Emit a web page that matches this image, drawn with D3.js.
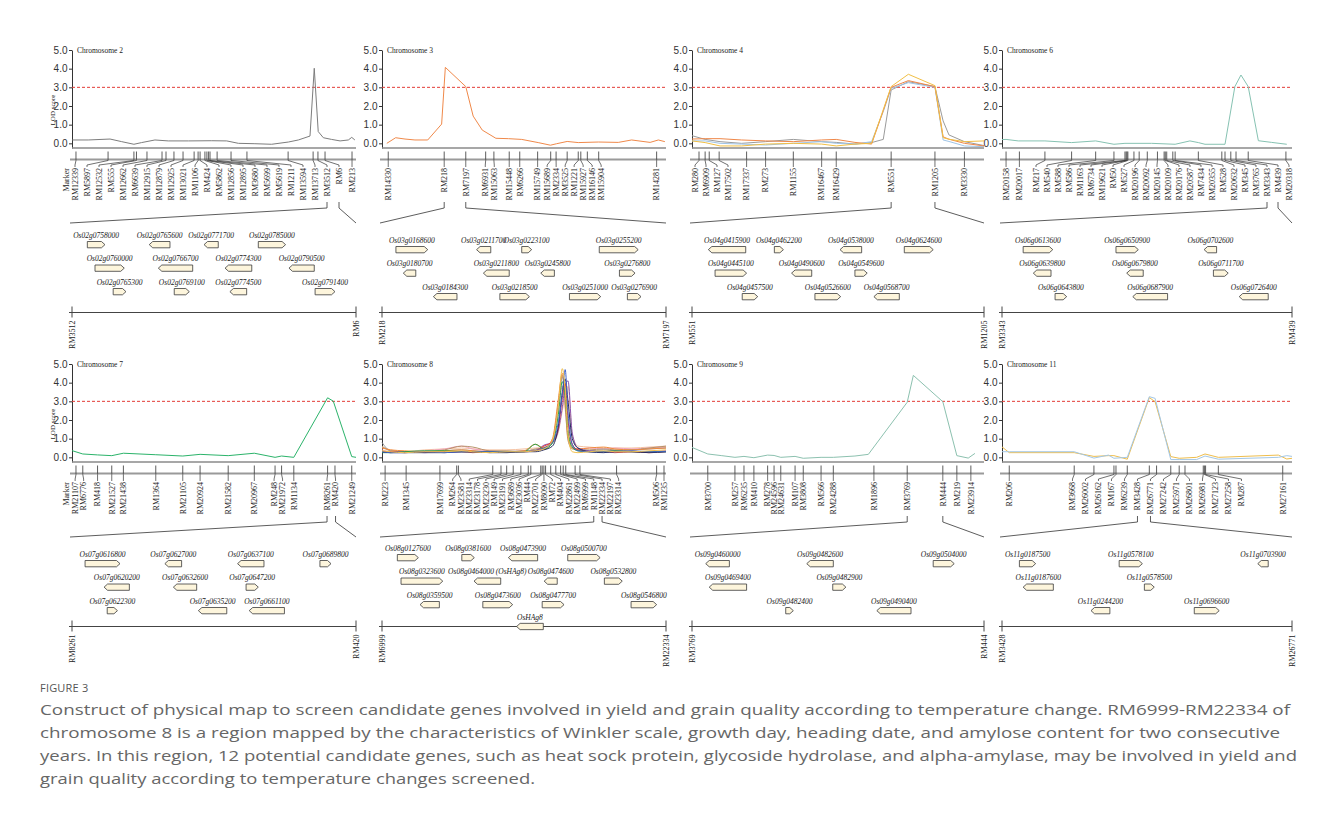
<!DOCTYPE html>
<html>
<head>
<meta charset="utf-8">
<script src="https://cdn.jsdelivr.net/npm/d3@7"></script>
<style>
  body { margin: 0; background: #fff; }
</style>
</head>
<body>
<svg id="fig" width="1320" height="823"></svg>
<script>
// ---------- data (positions in % of chromosome segment / zoom region) ----------

const chr2Markers = ['RM12339','RM5897','RM12532','RM555','RM12662','RM6639','RM12915','RM12879','RM12925','RM13021','RM1106','RM424','RM5862','RM12856','RM12895','RM3680','RM5699','RM5619','RM1211','RM13594','RM13713','RM3512','RM6','RM213']
const chr2Pos = [1.4,12.7,21.8,22.7,26.4,31.7,33.1,35.9,39.1,43.0,44.4,45.1,46.8,47.5,48.1,48.6,51.1,56.0,61.6,76.1,84.9,86.6,89.1,98.6]
const chr2LodX = [0.1,5.7,13.4,17.5,21.8,24.5,29.2,33.9,41.0,49.2,54.5,58.6,64.4,70.3,76.2,79.7,83.8,85.3,86.7,88.5,91.4,94.4,97.3,98.5,99.6]
const chr2Lod = [0.18,0.18,0.23,0.09,-0.05,0.04,0.18,0.13,0.13,0.14,0.13,0.0,-0.02,-0.05,0.07,0.18,0.39,4.02,0.63,0.3,0.21,0.13,0.18,0.32,0.18]
const chr2Genes = [
  ['Os02g0758000', 5.4, 11.6, 0, 1], ['Os02g0765600', 27.2, 34.5, 0, -1],
  ['Os02g0771700', 46.5, 51.5, 0, -1], ['Os02g0785000', 65.6, 75.2, 0, 1],
  ['Os02g0760000', 8.1, 18.4, 1, 1], ['Os02g0766700', 30.4, 42.5, 1, -1],
  ['Os02g0774300', 53.9, 63.3, 1, -1], ['Os02g0790500', 76.4, 85.3, 1, -1],
  ['Os02g0765300', 14.5, 19.0, 2, 1], ['Os02g0769100', 36.0, 41.3, 2, 1],
  ['Os02g0774500', 55.6, 61.5, 2, -1], ['Os02g0791400', 85.6, 92.6, 2, 1]
]

const chr3Markers = ['RM14330','RM218','RM7197','RM6931','RM15063','RM15448','RM6266','RM15749','RM15689','RM2334','RM3525','RM1221','RM15927','RM16146','RM15904','RM14281']
const chr3Pos = [2.2,21.9,29.5,36.5,39.4,44.8,48.5,54.8,59.4,61.3,65.2,69.1,70.0,72.3,76.3,96.7]
const chr3LodX = [1.7,4.8,8.1,11.6,16.1,21.0,22.3,29.5,32.1,35.3,40.1,44.5,49.2,55.0,59.3,61.5,65.2,69.1,76.2,83.2,87.9,94.4,97.3,99.6]
const chr3Lod = [0.0,0.3,0.23,0.18,0.18,1.03,4.07,3.04,1.46,0.71,0.27,0.25,0.21,0.04,-0.1,-0.02,0.1,0.04,0.07,0.05,0.18,0.05,0.18,0.09]
const chr3Genes = [
  ['Os03g0168600', 4.9, 16.1, 0, 1], ['Os03g0211700', 33.3, 38.3, 0, -1],
  ['Os03g0223100', 49.2, 52.7, 0, 1], ['Os03g0255200', 76.5, 90.2, 0, 1],
  ['Os03g0180700', 7.5, 11.9, 1, -1], ['Os03g0211800', 35.7, 44.8, 1, -1],
  ['Os03g0245800', 55.9, 60.7, 1, -1], ['Os03g0276800', 83.6, 89.1, 1, 1],
  ['Os03g0184300', 18.1, 26.4, 2, -1], ['Os03g0218500', 41.5, 51.9, 2, 1],
  ['Os03g0251000', 66.0, 77.0, 2, 1], ['Os03g0276900', 86.4, 91.2, 2, 1]
]

const chr4Markers = ['RM280','RM6909','RM127','RM17502','RM17337','RM273','RM1155','RM16467','RM16429','RM551','RM1205','RM3330']
const chr4Pos = [2.4,4.5,5.9,9.3,18.7,25.2,34.7,44.4,49.4,68.2,83.2,93.3]
const chr4LodX = [0,4.5,9.6,17.0,25.2,34.7,44.4,49.4,55.8,61.5,65.5,68.2,74.1,83.2,86.0,88.0,93.3,100]
const chr4LodGray = [0.41,0.21,0.09,0,0.09,0.21,0.09,0.05,-0.04,0.04,0.21,2.86,3.3,3.04,1.2,0.45,0.09,-0.12]
const chr4LodOrange = [0.23,0.25,0.25,0.18,0.13,0.09,0.18,0.21,0.05,-0.04,1.75,3.0,3.36,3.04,0.35,0.22,0,-0.14]
const chr4LodYellow = [0.13,0.04,-0.14,-0.14,-0.04,0,-0.04,-0.14,-0.04,0,1.8,3.04,3.7,3.09,0.3,0.22,0.09,0.13]
const chr4LodBlue = [0.13,0.13,0,-0.04,-0.09,0,0.09,0,-0.04,0.09,1.7,2.95,3.25,3.0,0.18,0.1,-0.14,-0.18]
const chr4Genes = [
  ['Os04g0415900', 5.6, 18.4, 0, -1], ['Os04g0462200', 28.2, 31.3, 0, 1],
  ['Os04g0538000', 50.7, 58.1, 0, -1], ['Os04g0624600', 72.7, 82.6, 0, 1],
  ['Os04g0445100', 7.9, 18.7, 1, 1], ['Os04g0490600', 34.1, 41.0, 1, -1],
  ['Os04g0549600', 55.8, 60.0, 1, 1],
  ['Os04g0457500', 17.2, 22.5, 2, 1], ['Os04g0526600', 42.1, 50.9, 2, 1],
  ['Os04g0568700', 62.3, 71.0, 2, -1]
]

const chr6Markers = ['RM20158','RM20017','RM217','RM540','RM588','RM586','RM1163','RM6734','RM19621','RM50','RM527','RM20196','RM20092','RM20145','RM20109','RM20176','RM20587','RM7434','RM20355','RM528','RM20632','RM345','RM3765','RM3343','RM439','RM20318']
const chr6Pos = [1.4,6.0,14.8,24.0,32.3,38.6,42.4,42.8,43.1,43.4,45.5,47.3,50.1,53.6,55.9,56.3,56.8,58.9,59.7,67.7,75.8,76.9,78.9,80.7,84.9,97.9]
const chr6LodX = [0,1.4,5.6,14.8,24.0,32.3,38.6,42.4,51.6,59.7,64.8,67.7,70.0,76.9,80.3,82.4,84.9,88.4,93.0,98.2]
const chr6Lod = [0.2,0.21,0.13,0.13,0.04,0.13,-0.05,0,0,-0.05,0.13,0.04,-0.05,-0.05,3.04,3.66,3.04,0.14,0.05,-0.05]
const chr6Genes = [
  ['Os06g0613600', 7.3, 17.5, 0, 1], ['Os06g0650900', 39.3, 47.0, 0, 1],
  ['Os06g0702600', 69.7, 74.0, 0, -1],
  ['Os06g0639800', 10.8, 16.9, 1, -1], ['Os06g0679800', 43.0, 48.7, 1, -1],
  ['Os06g0711700', 72.9, 78.0, 1, 1],
  ['Os06g0643800', 18.3, 22.3, 2, 1], ['Os06g0687900', 45.1, 57.1, 2, -1],
  ['Os06g0726400', 81.8, 91.8, 2, -1]
]

const chr7Markers = ['RM21107','RM6776','RM418','RM21527','RM21438','RM1364','RM21105','RM20924','RM21582','RM20967','RM248','RM21972','RM1134','RM8261','RM420','RM21249']
const chr7Pos = [1.4,3.8,9.0,14.0,18.1,29.5,39.0,45.1,55.0,64.2,71.5,73.8,78.1,90.0,92.6,98.5]
const chr7LodX = [0,3.8,9.0,14.0,18.1,29.5,39.0,45.1,55.0,64.2,71.5,73.8,78.1,90.0,92.0,98.5,100]
const chr7Lod = [0.36,0.18,0.13,0.09,0.22,0.14,0.07,0.16,0.09,0.22,0,0.07,0,3.19,3.01,0.04,0]
const chr7Genes = [
  ['Os07g0616800', 4.6, 16.9, 0, 1], ['Os07g0627000', 32.7, 38.6, 0, -1],
  ['Os07g0637100', 58.3, 67.6, 0, -1], ['Os07g0689800', 87.3, 91.2, 0, 1],
  ['Os07g0620200', 11.3, 20.2, 1, -1], ['Os07g0632600', 35.7, 43.9, 1, -1],
  ['Os07g0647200', 61.3, 65.6, 1, 1],
  ['Os07g0622300', 12.4, 16.0, 2, 1], ['Os07g0635200', 44.5, 54.5, 2, -1],
  ['Os07g0661100', 62.4, 74.8, 2, -1]
]

const chr8Markers = ['RM223','RM1345','RM17699','RM264','RM23581','RM23314','RM23178','RM23230','RM149','RM23191','RM3689','RM23036','RM44','RM22701','RM8090','RM72','RM404','RM22861','RM22499','RM6999','RM1148','RM22334','RM22197','RM23314','RM506','RM1235']
const chr8Pos = [1.1,8.5,20.4,26.3,26.9,39.0,41.9,43.9,46.2,48.9,51.5,52.4,55.9,56.4,57.0,57.6,59.4,61.2,62.9,63.8,64.7,68.0,69.7,82.6,96.7,99.3]
const chr8LodX = [0,3,8,15,22,28,32,38,44,50,54,57,60,62,63.5,64.5,65.5,67,69,73,78,82,88,94,100]
const chr8LodYellow = [0.35,0.3,0.25,0.3,0.3,0.35,0.3,0.25,0.3,0.3,0.35,0.45,0.9,2.6,4.75,3.6,1.2,0.3,0.25,0.3,0.35,0.3,0.3,0.35,0.4]
const chr8LodBlue = [0.3,0.25,0.25,0.3,0.25,0.3,0.3,0.3,0.3,0.3,0.35,0.5,0.8,1.8,3.4,4.7,2.4,0.7,0.35,0.3,0.3,0.3,0.35,0.3,0.3]
const chr8LodGray = [0.8,0.35,0.3,0.3,0.35,0.4,0.35,0.3,0.3,0.35,0.4,0.5,0.8,2.5,4.3,3.5,1.5,0.6,0.4,0.35,0.4,0.35,0.4,0.45,0.5]
const chr8LodNavy = [0.3,0.25,0.25,0.25,0.25,0.3,0.3,0.25,0.25,0.3,0.3,0.4,0.6,1.6,3.5,4.2,3.0,1.0,0.5,0.3,0.25,0.3,0.3,0.25,0.3]
const chr8LodGreen = [0.25,0.25,0.3,0.35,0.35,0.3,0.3,0.3,0.3,0.3,0.7,0.45,0.75,2.2,4.05,3.3,1.3,0.55,0.35,0.3,0.3,0.35,0.3,0.3,0.3]
const chr8LodRed = [0.3,0.3,0.25,0.3,0.3,0.3,0.25,0.3,0.3,0.3,0.35,0.6,0.85,1.5,3.2,3.95,2.0,0.7,0.4,0.3,0.3,0.25,0.3,0.25,0.3]
const chr8LodTan = [0.6,0.35,0.3,0.3,0.4,0.6,0.55,0.35,0.35,0.3,0.45,0.5,0.9,2.8,4.4,2.8,0.9,0.45,0.4,0.4,0.45,0.4,0.4,0.5,0.6]
const chr8LodPink = [0.4,0.3,0.3,0.35,0.45,0.6,0.45,0.35,0.3,0.35,0.4,0.45,0.8,2.4,3.8,2.6,1.0,0.5,0.45,0.5,0.45,0.5,0.45,0.5,0.55]
const chr8LodPurple = [0.3,0.3,0.3,0.25,0.3,0.3,0.3,0.3,0.3,0.3,0.35,0.65,0.8,1.4,2.7,3.8,4.1,1.3,0.5,0.35,0.3,0.35,0.3,0.3,0.35]
const chr8LodOrange = [0.5,0.4,0.35,0.3,0.35,0.4,0.35,0.3,0.3,0.35,0.7,0.5,1.0,3.0,4.5,3.2,1.1,0.5,0.45,0.5,0.55,0.45,0.4,0.45,0.5]
const chr8LodPeach = [0.55,0.4,0.3,0.4,0.45,0.5,0.45,0.4,0.4,0.45,0.5,0.55,0.75,1.3,2.5,3.3,3.8,1.2,0.6,0.55,0.5,0.5,0.5,0.55,0.6]
const chr8Genes = [
  ['Os08g0127600', 5.4, 12.8, 0, 1], ['Os08g0381600', 28.1, 32.5, 0, 1],
  ['Os08g0473900', 44.5, 54.8, 0, -1], ['Os08g0500700', 65.4, 76.8, 0, 1],
  ['Os08g0323600', 6.7, 21.4, 1, 1], ['Os08g0464000 (OsHAg8)', 32.4, 41.8, 1, -1],
  ['Os08g0474600', 57.1, 61.7, 1, -1], ['Os08g0532800', 78.3, 84.6, 1, 1],
  ['Os08g0359500', 13.4, 20.2, 2, -1], ['Os08g0473600', 35.5, 46.0, 2, 1],
  ['Os08g0477700', 56.4, 64.1, 2, 1], ['Os08g0546800', 87.7, 96.7, 2, 1],
  ['OsHAg8', 47.4, 56.8, 3, -1]
]

const chr9Markers = ['RM3700','RM257','RM6235','RM410','RM278','RM24596','RM24631','RM107','RM3808','RM566','RM24288','RM1896','RM3769','RM444','RM219','RM23914']
const chr9Pos = [5.4,14.7,17.8,21.2,25.9,28.1,30.4,35.3,38.1,44.2,48.4,62.3,73.7,85.9,90.7,95.5]
const chr9LodX = [0,5.4,10.2,14.7,17.8,21.2,25.9,28.1,30.4,35.3,38.1,44.2,48.4,55.8,60.4,73.7,75.8,85.9,90.7,94.6,96.9]
const chr9Lod = [0.53,0.18,0.09,0,0.05,-0.02,0.12,0.1,0,0.05,-0.05,0,0,0.07,0.16,2.95,4.39,2.98,0.09,-0.04,0.21]
const chr9Genes = [
  ['Os09g0460000', 4.7, 12.8, 0, -1], ['Os09g0482600', 39.3, 48.4, 0, -1],
  ['Os09g0504000', 82.6, 89.8, 0, 1],
  ['Os09g0469400', 5.9, 18.7, 1, -1], ['Os09g0482900', 48.2, 52.7, 1, 1],
  ['Os09g0482400', 32.1, 34.7, 2, 1], ['Os09g0490400', 63.3, 75.0, 2, -1]
]

const chr11Markers = ['RM206','RM3668','RM26002','RM26162','RM167','RM6239','RM3428','RM26771','RM27242','RM25971','RM26801','RM26981','RM27123','RM27258','RM287','RM27161']
const chr11Pos = [2.5,24.9,31.7,38.6,39.3,43.2,50.8,53.3,58.2,61.1,63.1,69.4,69.8,70.2,74.6,96.8]
const chr11LodX = [0,2.5,24.9,31.7,36.7,38.6,43.2,50.8,52.8,58.2,61.1,67.1,70.0,74.6,95.3,98.2,100]
const chr11LodBlue = [0.3,0.3,0.3,-0.04,0.12,-0.05,0,3.25,3.16,-0.12,-0.12,-0.12,0.07,-0.1,0,0.09,0.05]
const chr11LodYellow = [0.56,0.25,0.25,0.05,0.09,0.09,-0.1,3.2,2.98,0.04,-0.05,0.0,0.18,0,0.12,-0.09,-0.05]
const chr11Genes = [
  ['Os11g0187500', 6.0, 11.6, 0, 1], ['Os11g0578100', 40.4, 48.4, 0, 1],
  ['Os11g0703900', 88.2, 91.8, 0, -1],
  ['Os11g0187600', 7.3, 17.7, 1, -1], ['Os11g0578500', 49.1, 52.5, 1, 1],
  ['Os11g0244200', 30.7, 37.2, 2, -1], ['Os11g0696600', 66.3, 74.9, 2, 1]
]

const yTicks = [0, 1, 2, 3, 4, 5]
const threshold = 3.0

const captionLines = [
  'Construct of physical map to screen candidate genes involved in yield and grain quality according to temperature change. RM6999-RM22334 of',
  'chromosome 8 is a region mapped by the characteristics of Winkler scale, growth day, heading date, and amylose content for two consecutive',
  'years. In this region, 12 potential candidate genes, such as heat sock protein, glycoside hydrolase, and alpha-amylase, may be involved in yield and',
  'grain quality according to temperature changes screened.'
]
const captionWidths = [1250, 1240, 1257, 495]

// ---------- panels ----------
const panels = [
  { title: 'Chromosome 2', col: 0, row: 0, markers: chr2Markers, pos: chr2Pos, lodX: chr2LodX,
    lods: [chr2Lod], colors: ['#7d7d7d'], genes: chr2Genes, zoom: ['RM3512', 'RM6'], ends: ['RM3512', 'RM6'], gap: 12, shift: -5 },
  { title: 'Chromosome 3', col: 1, row: 0, markers: chr3Markers, pos: chr3Pos, lodX: chr3LodX,
    lods: [chr3Lod], colors: ['#f0894a'], genes: chr3Genes, zoom: ['RM218', 'RM7197'], ends: ['RM218', 'RM7197'], gap: 9, shift: 0 },
  { title: 'Chromosome 4', col: 2, row: 0, markers: chr4Markers, pos: chr4Pos, lodX: chr4LodX,
    lods: [chr4LodGray, chr4LodBlue, chr4LodOrange, chr4LodYellow], colors: ['#9b9b9b', '#9fc4e6', '#ef8748', '#f1bf45'],
    genes: chr4Genes, zoom: ['RM551', 'RM1205'], ends: ['RM551', 'RM1205'], gap: 11, shift: 0 },
  { title: 'Chromosome 6', col: 3, row: 0, markers: chr6Markers, pos: chr6Pos, lodX: chr6LodX,
    lods: [chr6Lod], colors: ['#86c2b2'], genes: chr6Genes, zoom: ['RM3343', 'RM439'], ends: ['RM3343', 'RM439'], gap: 11, shift: 0 },
  { title: 'Chromosome 7', col: 0, row: 1, markers: chr7Markers, pos: chr7Pos, lodX: chr7LodX,
    lods: [chr7Lod], colors: ['#2bb36a'], genes: chr7Genes, zoom: ['RM8261', 'RM420'], ends: ['RM8261', 'RM420'], gap: 8.5, shift: 0 },
  { title: 'Chromosome 8', col: 1, row: 1, markers: chr8Markers, pos: chr8Pos, lodX: chr8LodX,
    lods: [chr8LodPeach, chr8LodPink, chr8LodTan, chr8LodGray, chr8LodOrange, chr8LodPurple, chr8LodRed, chr8LodGreen, chr8LodNavy, chr8LodBlue, chr8LodYellow],
    colors: ['#f5c2a2', '#f0a3bd', '#b8936a', '#9a9a9a', '#f08a3c', '#8a55b0', '#e03c3c', '#27a348', '#262a5c', '#3f63c9', '#f2c14e'],
    smooth: true, genes: chr8Genes, zoom: ['RM1148', 'RM22334'], ends: ['RM6999', 'RM22334'], gap: 8.3, shift: -6 },
  { title: 'Chromosome 9', col: 2, row: 1, markers: chr9Markers, pos: chr9Pos, lodX: chr9LodX,
    lods: [chr9Lod], colors: ['#8cc1af'], genes: chr9Genes, zoom: ['RM3769', 'RM444'], ends: ['RM3769', 'RM444'], gap: 6, shift: 0 },
  { title: 'Chromosome 11', col: 3, row: 1, markers: chr11Markers, pos: chr11Pos, lodX: chr11LodX,
    lods: [chr11LodYellow, chr11LodBlue], colors: ['#eebd4c', '#a3c7e6'], genes: chr11Genes, zoom: ['RM3428', 'RM26771'], ends: ['RM3428', 'RM26771'], gap: 13, shift: 0 }
]

const colX = [72, 382, 692, 1002]
const colW = [284, 284, 292, 290]
const rowY = [50, 364]
const serif = "'Liberation Serif', 'Times New Roman', serif"

const svg = d3.select('#fig')
svg.append('rect').attr('width', 1320).attr('height', 823).attr('fill', '#fff')

// spread labels apart: least-squares shift with a minimum gap (pool adjacent violators)
function spreadLabels (ticks, gap, lo, hi) {
  const blocks = []
  ticks.forEach((t, i) => {
    blocks.push({ sum: t - i * gap, n: 1 })
    while (blocks.length > 1) {
      const b = blocks[blocks.length - 1]
      const a = blocks[blocks.length - 2]
      if (a.sum / a.n > b.sum / b.n) {
        a.sum += b.sum
        a.n += b.n
        blocks.pop()
      } else break
    }
  })
  const out = []
  blocks.forEach(b => { for (let k = 0; k < b.n; k++) out.push(b.sum / b.n) })
  const l = out.map((v, i) => v + i * gap)
  if (l[0] < lo) {
    l[0] = lo
    for (let i = 1; i < l.length; i++) l[i] = Math.max(l[i], l[i - 1] + gap)
  }
  if (l[l.length - 1] > hi) {
    l[l.length - 1] = hi
    for (let i = l.length - 2; i >= 0; i--) l[i] = Math.min(l[i], l[i + 1] - gap)
  }
  return l
}

function vertLabel (g, text, px, top, size, italic) {
  g.append('text')
    .attr('transform', `translate(${px},${top}) rotate(-90)`)
    .attr('text-anchor', 'end')
    .attr('dy', '0.35em')
    .attr('font-family', serif)
    .attr('font-size', size)
    .attr('font-style', italic ? 'italic' : null)
    .attr('fill', '#222')
    .text(text)
}

function drawPanel (p) {
  const x0 = colX[p.col]
  const w = colW[p.col]
  const y0 = rowY[p.row]
  const g = svg.append('g')

  const x = d3.scaleLinear().domain([0, 100]).range([x0, x0 + w])
  const y = d3.scaleLinear().domain([-0.25, 5]).range([y0 + 98, y0])

  // LOD axis
  const ax = g.append('g')
    .attr('transform', `translate(${x0},0)`)
    .attr('font-family', serif)
    .attr('font-size', 7)
    .call(d3.axisLeft(y).tickValues(yTicks).tickFormat(d3.format('.1f')).tickSize(3).tickSizeOuter(0).tickPadding(1.5))
  ax.select('.domain').attr('stroke', '#333')
  ax.selectAll('.tick line').attr('stroke', '#333')
  ax.selectAll('.tick text').attr('fill', '#333')

  g.append('line')
    .attr('x1', x0).attr('x2', x0 + w)
    .attr('y1', y(-0.25)).attr('y2', y(-0.25))
    .attr('stroke', '#8a8a8a').attr('stroke-width', 1.5)

  g.append('text')
    .attr('x', x0 + 5).attr('y', y0 + 2.8)
    .attr('font-family', serif).attr('font-size', 7.5).attr('fill', '#222')
    .text(p.title)

  if (p.col === 0) {
    g.append('text')
      .attr('transform', `translate(${x0 - 17.5},${y0 + 60}) rotate(-90)`)
      .attr('text-anchor', 'middle')
      .attr('font-family', serif).attr('font-size', 7).attr('fill', '#222')
      .text('LOD score')
  }

  // threshold
  g.append('line')
    .attr('x1', x0).attr('x2', x0 + w)
    .attr('y1', y(threshold)).attr('y2', y(threshold))
    .attr('stroke', '#e23b35').attr('stroke-width', 1).attr('stroke-dasharray', '3,2')

  // LOD curves
  const line = d3.line()
    .x((d, i) => x(p.lodX[i]))
    .y(d => y(d))
    .curve(p.smooth ? d3.curveMonotoneX : d3.curveLinear)
  p.lods.forEach((s, k) => {
    g.append('path')
      .attr('d', line(s))
      .attr('fill', 'none')
      .attr('stroke', p.colors[k])
      .attr('stroke-width', 1)
  })

  // marker map
  const lineY = y0 + 109.5
  const labTop = y0 + 118
  g.append('line')
    .attr('x1', x0 - 2).attr('x2', x0 + w)
    .attr('y1', lineY).attr('y2', lineY)
    .attr('stroke', '#9a9a9a').attr('stroke-width', 2)

  const ticks = p.pos.map(d => x(d))
  const labs = spreadLabels(ticks, p.gap, x0 + 3, x0 + w - 2)

  g.selectAll(null)
    .data(ticks)
    .enter().append('line')
    .attr('x1', d => d).attr('x2', d => d)
    .attr('y1', y0 + 101.5).attr('y2', lineY)
    .attr('stroke', '#333').attr('stroke-width', 0.8)

  g.selectAll(null)
    .data(ticks)
    .enter().append('path')
    .attr('d', (d, i) => `M${d},${lineY}L${d},${lineY + 1}L${labs[i]},${labTop - 3}L${labs[i]},${labTop - 1}`)
    .attr('fill', 'none')
    .attr('stroke', '#333').attr('stroke-width', 0.7)

  p.markers.forEach((m, i) => vertLabel(g, m, labs[i], labTop, 8, false))

  if (p.col === 0) vertLabel(g, 'Marker', x0 - 6, labTop, 8, false)

  // zoom lines
  const za = labs[p.markers.indexOf(p.zoom[0])]
  const zb = labs[p.markers.lastIndexOf(p.zoom[1])]
  g.append('path')
    .attr('d', `M${za},${y0 + 152}L${za},${y0 + 158}L${x0 - 2},${y0 + 173}M${zb},${y0 + 152}L${zb},${y0 + 158}L${x0 + w},${y0 + 173}`)
    .attr('fill', 'none')
    .attr('stroke', '#333').attr('stroke-width', 0.8)

  // genes
  const gx = d3.scaleLinear().domain([0, 100]).range([x0, x0 + w])
  const axisY = y0 + 262.5
  const rowLab = [190, 213.5, 237].map(v => y0 + v + p.shift)

  g.append('line')
    .attr('x1', x0 - 3).attr('x2', x0 + w)
    .attr('y1', axisY).attr('y2', axisY)
    .attr('stroke', '#444').attr('stroke-width', 1)
  ;[x0, x0 + w].forEach(v => {
    g.append('line')
      .attr('x1', v).attr('x2', v)
      .attr('y1', axisY - 6).attr('y2', axisY + 5)
      .attr('stroke', '#444').attr('stroke-width', 1)
  })
  vertLabel(g, p.ends[0], x0, axisY + 8, 8, false)
  vertLabel(g, p.ends[1], x0 + w, axisY + 8, 8, false)

  p.genes.forEach(gene => {
    const [name, s, e, r, dir] = gene
    const a = gx(s)
    const b = gx(e)
    const bh = 6.3
    const top = r === 3 ? axisY - bh / 2 : rowLab[r] + 6.5
    const bot = top + bh
    const mid = top + bh / 2
    const t = Math.min(3.5, (b - a) / 2)
    const d = dir > 0
      ? `M${a},${top}L${b - t},${top}L${b},${mid}L${b - t},${bot}L${a},${bot}Z`
      : `M${b},${top}L${a + t},${top}L${a},${mid}L${a + t},${bot}L${b},${bot}Z`
    g.append('path')
      .attr('d', d)
      .attr('fill', '#fdf5dc')
      .attr('stroke', '#3a3a3a').attr('stroke-width', 0.8)
    const ly = r === 3 ? axisY - 9.5 : rowLab[r]
    g.append('text')
      .attr('x', (a + b) / 2).attr('y', ly)
      .attr('dy', '0.35em')
      .attr('text-anchor', 'middle')
      .attr('font-family', serif).attr('font-size', 7.5).attr('font-style', 'italic')
      .attr('fill', '#222')
      .text(name)
  })
}

panels.forEach(drawPanel)

// ---------- caption ----------
const cap = svg.append('g').attr('font-family', "'Open Sans', 'Noto Sans', sans-serif").attr('fill', '#666')
cap.append('text')
  .attr('x', 40).attr('y', 692)
  .attr('font-size', 11).attr('letter-spacing', 0.2).attr('fill', '#555')
  .text('FIGURE 3')
cap.selectAll(null)
  .data(captionLines)
  .enter().append('text')
  .attr('x', 40)
  .attr('y', (d, i) => 715 + i * 23)
  .attr('font-size', 15)
  .attr('textLength', (d, i) => captionWidths[i])
  .attr('lengthAdjust', 'spacingAndGlyphs')
  .text(d => d)
</script>
</body>
</html>
